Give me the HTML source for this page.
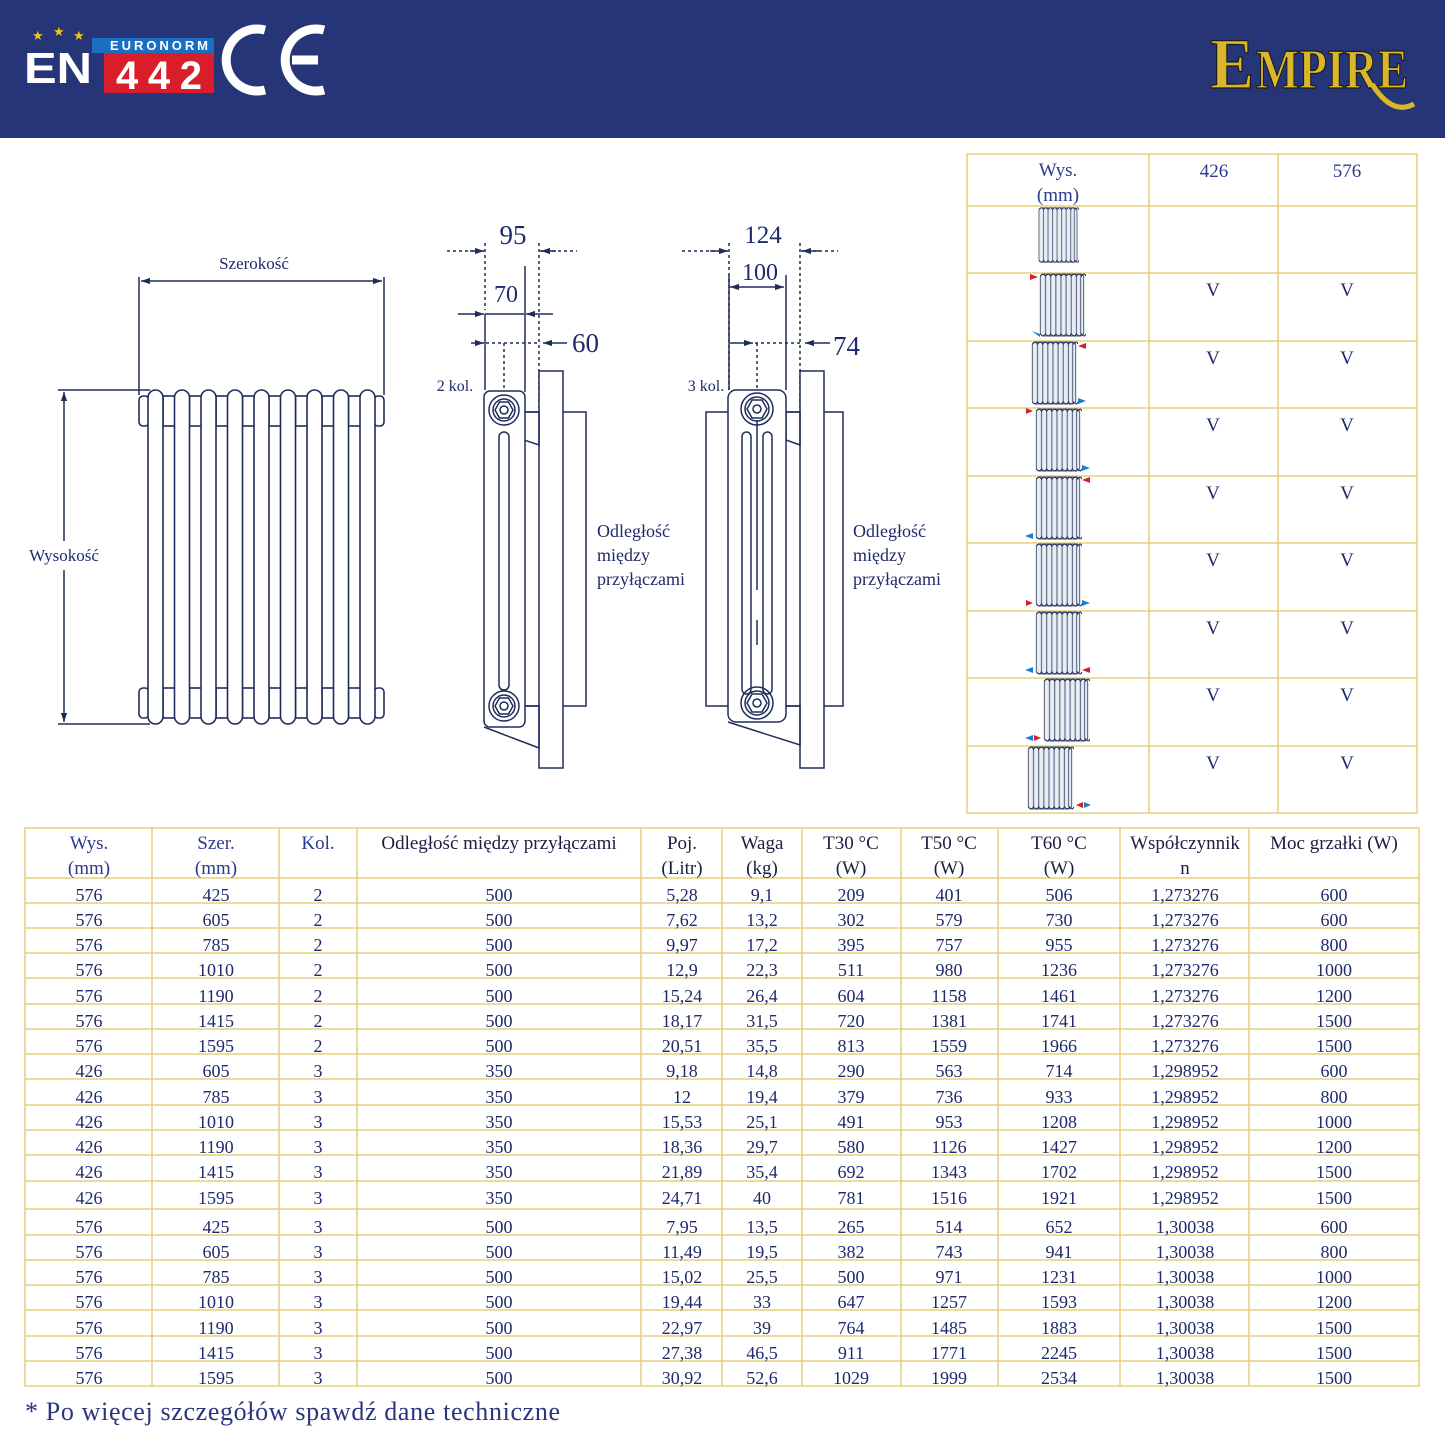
<!DOCTYPE html>
<html><head><meta charset="utf-8">
<style>
html,body{margin:0;padding:0;background:#fff;}
body{width:1445px;height:1445px;overflow:hidden;position:relative;}
svg{position:absolute;left:0;top:0;}
.t{font-family:"Liberation Serif",serif;fill:#1e2a6b;}
.c{text-anchor:middle;}
.d{font-size:18px;}
.h{font-size:19px;fill:#1a1f40;}
.hb{font-size:19px;fill:#2a3a8f;}
</style></head><body>
<svg width="1445" height="1445" viewBox="0 0 1445 1445" xmlns="http://www.w3.org/2000/svg">
<defs>
<marker id="ar" viewBox="0 0 10 10" refX="10" refY="5" markerWidth="9" markerHeight="9" orient="auto-start-reverse" markerUnits="userSpaceOnUse"><path d="M0,1.5 L10,5 L0,8.5 z" fill="#1f2d5a"/></marker>
<symbol id="rad" viewBox="0 0 46 64">
<rect x="2" y="2" width="42" height="60" rx="3" fill="#e8ecf3" stroke="#55607a" stroke-width="1"/>
<g stroke="#6a7590" stroke-width="1.2">
<line x1="7" y1="4" x2="7" y2="60"/><line x1="12" y1="4" x2="12" y2="60"/><line x1="17" y1="4" x2="17" y2="60"/><line x1="22" y1="4" x2="22" y2="60"/><line x1="27" y1="4" x2="27" y2="60"/><line x1="32" y1="4" x2="32" y2="60"/><line x1="37" y1="4" x2="37" y2="60"/><line x1="41" y1="4" x2="41" y2="60"/>
</g>
<path d="M2,4 q3,-4 5,0 q3,-4 5,0 q3,-4 5,0 q3,-4 5,0 q3,-4 5,0 q3,-4 5,0 q3,-4 5,0 q3,-4 5,0 q3,-4 4,0" fill="none" stroke="#1f2d5a" stroke-width="1"/>
<path d="M2,60 q3,4 5,0 q3,4 5,0 q3,4 5,0 q3,4 5,0 q3,4 5,0 q3,4 5,0 q3,4 5,0 q3,4 5,0 q3,4 4,0" fill="none" stroke="#1f2d5a" stroke-width="1"/>
</symbol>
</defs>

<!-- header -->
<rect x="0" y="0" width="1445" height="138" fill="#263577"/>
<g fill="#f2c318" font-family="DejaVu Sans,sans-serif" font-size="13">
<text x="32" y="40">★</text><text x="53" y="36">★</text><text x="73" y="40">★</text><text x="91" y="50">★</text>
</g>
<text x="24" y="83" font-family="Liberation Sans,sans-serif" font-weight="bold" font-size="44" fill="#fff" textLength="68" lengthAdjust="spacingAndGlyphs">EN</text>
<rect x="92" y="38" width="122" height="15" fill="#1b6fc0"/>
<text x="110" y="50" font-family="Liberation Sans,sans-serif" font-weight="bold" font-size="13" fill="#fff" textLength="98">EURONORM</text>
<rect x="104" y="53" width="110" height="40" fill="#d81e2a"/>
<text x="116" y="89" font-family="Liberation Sans,sans-serif" font-weight="bold" font-size="40" fill="#fff" textLength="86">442</text>
<path d="M265,30 A31,31 0 1 0 265,90" fill="none" stroke="#fff" stroke-width="9"/>
<path d="M324,30 A31,31 0 1 0 324,90 M292,60 L318,60" fill="none" stroke="#fff" stroke-width="9"/>
<g font-family="Liberation Serif,serif" font-weight="bold" fill="#d9b62a" stroke="#1a1a1a" stroke-width="1.2">
<text x="1210" y="88" font-size="72" textLength="44" lengthAdjust="spacingAndGlyphs">E</text>
<text x="1256" y="88" font-size="56" textLength="152" lengthAdjust="spacingAndGlyphs">MPIRE</text>
</g>
<path d="M1372,84 Q1392,116 1414,104" fill="none" stroke="#d9b62a" stroke-width="5"/>

<!-- front view -->
<g stroke="#1f2d5a" fill="none" stroke-width="1.5">
<line x1="139" y1="277" x2="139" y2="395"/><line x1="384" y1="277" x2="384" y2="395"/>
<line x1="141" y1="281" x2="382" y2="281" marker-start="url(#ar)" marker-end="url(#ar)"/>
<line x1="58" y1="390" x2="150" y2="390"/><line x1="58" y1="724" x2="150" y2="724"/>
<line x1="64" y1="392" x2="64" y2="541" marker-start="url(#ar)"/>
<line x1="64" y1="570" x2="64" y2="722" marker-end="url(#ar)"/>
</g>
<text class="t c" x="254" y="269" font-size="17">Szerokość</text>
<text class="t c" x="64" y="561" font-size="17">Wysokość</text>
<g stroke="#1f2d5a" fill="#fff" stroke-width="1.6">
<rect x="139" y="396" width="10" height="30" rx="4"/><rect x="139" y="688" width="10" height="30" rx="4"/>
<rect x="374" y="396" width="10" height="30" rx="4"/><rect x="374" y="688" width="10" height="30" rx="4"/>
<g id="conn">
<rect x="163" y="396" width="12" height="30"/><rect x="163" y="688" width="12" height="30"/>
</g>
<use href="#conn" x="26.5"/><use href="#conn" x="53"/><use href="#conn" x="79.5"/><use href="#conn" x="106"/><use href="#conn" x="132.5"/><use href="#conn" x="159"/><use href="#conn" x="185.5"/>
<rect x="148" y="390" width="15" height="334" rx="7.5"/>
<rect x="174.5" y="390" width="15" height="334" rx="7.5"/>
<rect x="201" y="390" width="15" height="334" rx="7.5"/>
<rect x="227.5" y="390" width="15" height="334" rx="7.5"/>
<rect x="254" y="390" width="15" height="334" rx="7.5"/>
<rect x="280.5" y="390" width="15" height="334" rx="7.5"/>
<rect x="307" y="390" width="15" height="334" rx="7.5"/>
<rect x="333.5" y="390" width="15" height="334" rx="7.5"/>
<rect x="360" y="390" width="15" height="334" rx="7.5"/>
</g>

<!-- side view 2 kol -->
<g stroke="#1f2d5a" fill="none" stroke-width="1.5">
<line x1="447" y1="251" x2="484" y2="251" stroke-dasharray="3,3"/>
<line x1="470" y1="251" x2="484" y2="251" marker-end="url(#ar)"/>
<line x1="540" y1="251" x2="577" y2="251" stroke-dasharray="3,3"/>
<line x1="556" y1="251" x2="541" y2="251" marker-end="url(#ar)"/>
<line x1="485" y1="243" x2="485" y2="310" stroke-dasharray="3,3"/>
<line x1="539" y1="243" x2="539" y2="412" stroke-dasharray="3,3"/>
<line x1="458" y1="314" x2="484" y2="314" marker-end="url(#ar)"/>
<line x1="485" y1="314" x2="524" y2="314"/>
<line x1="553" y1="314" x2="526" y2="314" marker-end="url(#ar)"/>
<line x1="485" y1="314" x2="485" y2="390"/>
<line x1="525" y1="266" x2="525" y2="392"/>
<line x1="471" y1="343" x2="484" y2="343" marker-end="url(#ar)"/>
<line x1="486" y1="343" x2="537" y2="343" stroke-dasharray="3,3"/>
<line x1="567" y1="343" x2="543" y2="343" marker-end="url(#ar)"/>
<line x1="504" y1="343" x2="504" y2="408" stroke-dasharray="3,3"/>
<rect x="524" y="412" width="62" height="294" fill="#fff"/>
<rect x="539" y="371" width="24" height="397" fill="#fff"/>
<path d="M524,412 L539,412 L539,445 L524,440 Z M484,727 L539,748 L539,706 L524,706"/>
<rect x="484" y="391" width="41" height="336" rx="6" fill="#fff"/>
<rect x="499" y="432" width="10" height="258" rx="5"/>
<circle cx="504" cy="410" r="15"/><circle cx="504" cy="410" r="11"/><polygon points="513,410 508.5,418 499.5,418 495,410 499.5,402 508.5,402"/><circle cx="504" cy="410" r="4"/>
<circle cx="504" cy="706" r="15"/><circle cx="504" cy="706" r="11"/><polygon points="513,706 508.5,714 499.5,714 495,706 499.5,698 508.5,698"/><circle cx="504" cy="706" r="4"/>
</g>
<text class="t c" x="513" y="244" font-size="27">95</text>
<text class="t c" x="506" y="302" font-size="24">70</text>
<text class="t" x="572" y="352" font-size="27">60</text>
<text class="t c" x="455" y="391" font-size="16">2 kol.</text>
<text class="t" x="597" y="537" font-size="18">Odległość</text>
<text class="t" x="597" y="561" font-size="18">między</text>
<text class="t" x="597" y="585" font-size="18">przyłączami</text>

<!-- side view 3 kol -->
<g stroke="#1f2d5a" fill="none" stroke-width="1.5">
<line x1="682" y1="251" x2="728" y2="251" stroke-dasharray="3,3"/>
<line x1="710" y1="251" x2="728" y2="251" marker-end="url(#ar)"/>
<line x1="801" y1="251" x2="838" y2="251" stroke-dasharray="3,3"/>
<line x1="820" y1="251" x2="802" y2="251" marker-end="url(#ar)"/>
<line x1="729" y1="243" x2="729" y2="390" stroke-dasharray="3,3"/>
<line x1="800" y1="243" x2="800" y2="412" stroke-dasharray="3,3"/>
<line x1="730" y1="287" x2="784" y2="287" marker-start="url(#ar)" marker-end="url(#ar)"/>
<line x1="729" y1="275" x2="729" y2="390"/>
<line x1="786" y1="275" x2="786" y2="390"/>
<line x1="730" y1="343" x2="753" y2="343" marker-end="url(#ar)"/>
<line x1="755" y1="343" x2="800" y2="343" stroke-dasharray="3,3"/>
<line x1="830" y1="343" x2="805" y2="343" marker-end="url(#ar)"/>
<line x1="757" y1="343" x2="757" y2="408" stroke-dasharray="3,3"/>
<rect x="706" y="412" width="137" height="294" fill="#fff"/>
<rect x="800" y="371" width="24" height="397" fill="#fff"/>
<path d="M786,412 L800,412 L800,445 L786,440 Z M728,722 L800,745 L800,706 L786,706"/>
<rect x="728" y="390" width="58" height="332" rx="8" fill="#fff"/>
<rect x="742" y="432" width="9" height="262" rx="4.5"/>
<rect x="763" y="432" width="9" height="262" rx="4.5"/>
<line x1="757" y1="420" x2="757" y2="590"/><line x1="757" y1="620" x2="757" y2="645"/>
<circle cx="757" cy="409" r="16"/><circle cx="757" cy="409" r="12"/><polygon points="767,409 762,418 752,418 747,409 752,400 762,400"/><circle cx="757" cy="409" r="4"/>
<circle cx="757" cy="703" r="16"/><circle cx="757" cy="703" r="12"/><polygon points="767,703 762,712 752,712 747,703 752,694 762,694"/><circle cx="757" cy="703" r="4"/>
</g>
<text class="t c" x="763" y="243" font-size="25">124</text>
<text class="t c" x="760" y="280" font-size="24">100</text>
<text class="t" x="833" y="355" font-size="27">74</text>
<text class="t c" x="706" y="391" font-size="16">3 kol.</text>
<text class="t" x="853" y="537" font-size="18">Odległość</text>
<text class="t" x="853" y="561" font-size="18">między</text>
<text class="t" x="853" y="585" font-size="18">przyłączami</text>

<!-- right table -->
<g stroke="#e6cf7a" stroke-width="1.5" fill="none">
<rect x="967" y="154" width="450" height="659"/>
<line x1="1149" y1="154" x2="1149" y2="813"/><line x1="1278" y1="154" x2="1278" y2="813"/>
<line x1="967" y1="206" x2="1417" y2="206"/><line x1="967" y1="273" x2="1417" y2="273"/><line x1="967" y1="341" x2="1417" y2="341"/><line x1="967" y1="408" x2="1417" y2="408"/><line x1="967" y1="476" x2="1417" y2="476"/><line x1="967" y1="543" x2="1417" y2="543"/><line x1="967" y1="611" x2="1417" y2="611"/><line x1="967" y1="678" x2="1417" y2="678"/><line x1="967" y1="746" x2="1417" y2="746"/>
</g>
<text class="t c hb" x="1058" y="176" font-size="19">Wys.</text>
<text class="t c hb" x="1058" y="201">(mm)</text>
<text class="t c hb" x="1214" y="177">426</text>
<text class="t c hb" x="1347" y="177">576</text>
<use href="#rad" x="1036" y="206" width="44" height="58"/>
<use href="#rad" x="1038" y="272" width="48" height="66"/>
<use href="#rad" x="1030" y="340" width="48" height="66"/>
<use href="#rad" x="1034" y="407" width="48" height="66"/>
<use href="#rad" x="1034" y="475" width="48" height="66"/>
<use href="#rad" x="1034" y="542" width="48" height="66"/>
<use href="#rad" x="1034" y="610" width="48" height="66"/>
<use href="#rad" x="1042" y="677" width="48" height="66"/>
<use href="#rad" x="1026" y="745" width="48" height="66"/>
<g>
<polygon points="1030,274 1038,277 1030,280" fill="#d81e2a"/><polygon points="1040,334 1032,331 1040,337" fill="#1b7fd0"/>
<polygon points="1086,343 1078,346 1086,349" fill="#d81e2a"/>
<polygon points="1026,408 1033,411 1026,414" fill="#d81e2a"/><polygon points="1078,398 1086,401 1078,404" fill="#1b7fd0"/>
<polygon points="1082,465 1090,468 1082,471" fill="#1b7fd0"/><polygon points="1090,477 1082,480 1090,483" fill="#d81e2a"/>
<polygon points="1033,533 1025,536 1033,539" fill="#1b7fd0"/>
<polygon points="1026,600 1033,603 1026,606" fill="#d81e2a"/><polygon points="1082,600 1090,603 1082,606" fill="#1b7fd0"/>
<polygon points="1033,667 1025,670 1033,673" fill="#1b7fd0"/><polygon points="1090,667 1082,670 1090,673" fill="#d81e2a"/>
<polygon points="1033,735 1025,738 1033,741" fill="#1b7fd0"/><polygon points="1034,735 1041,738 1034,741" fill="#d81e2a"/>
<polygon points="1083,802 1076,805 1083,808" fill="#d81e2a"/><polygon points="1084,802 1091,805 1084,808" fill="#1b7fd0"/>
</g>
<g class="t c" font-size="19">
<text x="1213" y="296">V</text><text x="1347" y="296">V</text>
<text x="1213" y="364">V</text><text x="1347" y="364">V</text>
<text x="1213" y="431">V</text><text x="1347" y="431">V</text>
<text x="1213" y="499">V</text><text x="1347" y="499">V</text>
<text x="1213" y="566">V</text><text x="1347" y="566">V</text>
<text x="1213" y="634">V</text><text x="1347" y="634">V</text>
<text x="1213" y="701">V</text><text x="1347" y="701">V</text>
<text x="1213" y="769">V</text><text x="1347" y="769">V</text>
</g>

<!-- main table grid -->
<g stroke="#e6cf7a" stroke-width="1.5">
<rect x="25" y="828" width="1394" height="558" fill="none"/>
<line x1="152" y1="828" x2="152" y2="1386"/><line x1="279" y1="828" x2="279" y2="1386"/><line x1="357" y1="828" x2="357" y2="1386"/><line x1="641" y1="828" x2="641" y2="1386"/><line x1="722" y1="828" x2="722" y2="1386"/><line x1="802" y1="828" x2="802" y2="1386"/><line x1="901" y1="828" x2="901" y2="1386"/><line x1="998" y1="828" x2="998" y2="1386"/><line x1="1120" y1="828" x2="1120" y2="1386"/><line x1="1249" y1="828" x2="1249" y2="1386"/>
<line x1="25" y1="878" x2="1419" y2="878"/><line x1="25" y1="903" x2="1419" y2="903"/><line x1="25" y1="928" x2="1419" y2="928"/><line x1="25" y1="953" x2="1419" y2="953"/><line x1="25" y1="978" x2="1419" y2="978"/><line x1="25" y1="1004" x2="1419" y2="1004"/><line x1="25" y1="1029" x2="1419" y2="1029"/><line x1="25" y1="1054" x2="1419" y2="1054"/><line x1="25" y1="1079" x2="1419" y2="1079"/><line x1="25" y1="1105" x2="1419" y2="1105"/><line x1="25" y1="1130" x2="1419" y2="1130"/><line x1="25" y1="1155" x2="1419" y2="1155"/><line x1="25" y1="1181" x2="1419" y2="1181"/><line x1="25" y1="1209" x2="1419" y2="1209"/><line x1="25" y1="1235" x2="1419" y2="1235"/><line x1="25" y1="1260" x2="1419" y2="1260"/><line x1="25" y1="1285" x2="1419" y2="1285"/><line x1="25" y1="1310" x2="1419" y2="1310"/><line x1="25" y1="1336" x2="1419" y2="1336"/><line x1="25" y1="1361" x2="1419" y2="1361"/>
</g>
<g class="t c">
<text class="hb" x="89" y="849">Wys.</text><text class="hb" x="89" y="874">(mm)</text>
<text class="hb" x="216" y="849">Szer.</text><text class="hb" x="216" y="874">(mm)</text>
<text class="hb" x="318" y="849">Kol.</text>
<text class="h" x="499" y="849">Odległość między przyłączami</text>
<text class="h" x="682" y="849">Poj.</text><text class="h" x="682" y="874">(Litr)</text>
<text class="h" x="762" y="849">Waga</text><text class="h" x="762" y="874">(kg)</text>
<text class="h" x="851" y="849">T30 °C</text><text class="h" x="851" y="874">(W)</text>
<text class="h" x="949" y="849">T50 °C</text><text class="h" x="949" y="874">(W)</text>
<text class="h" x="1059" y="849">T60 °C</text><text class="h" x="1059" y="874">(W)</text>
<text class="h" x="1185" y="849">Współczynnik</text><text class="h" x="1185" y="874">n</text>
<text class="h" x="1334" y="849">Moc grzałki (W)</text>
</g>
<g class="t c d">
<g transform="translate(0,901)"><text x="89">576</text><text x="216">425</text><text x="318">2</text><text x="499">500</text><text x="682">5,28</text><text x="762">9,1</text><text x="851">209</text><text x="949">401</text><text x="1059">506</text><text x="1185">1,273276</text><text x="1334">600</text></g>
<g transform="translate(0,926)"><text x="89">576</text><text x="216">605</text><text x="318">2</text><text x="499">500</text><text x="682">7,62</text><text x="762">13,2</text><text x="851">302</text><text x="949">579</text><text x="1059">730</text><text x="1185">1,273276</text><text x="1334">600</text></g>
<g transform="translate(0,951)"><text x="89">576</text><text x="216">785</text><text x="318">2</text><text x="499">500</text><text x="682">9,97</text><text x="762">17,2</text><text x="851">395</text><text x="949">757</text><text x="1059">955</text><text x="1185">1,273276</text><text x="1334">800</text></g>
<g transform="translate(0,976)"><text x="89">576</text><text x="216">1010</text><text x="318">2</text><text x="499">500</text><text x="682">12,9</text><text x="762">22,3</text><text x="851">511</text><text x="949">980</text><text x="1059">1236</text><text x="1185">1,273276</text><text x="1334">1000</text></g>
<g transform="translate(0,1002)"><text x="89">576</text><text x="216">1190</text><text x="318">2</text><text x="499">500</text><text x="682">15,24</text><text x="762">26,4</text><text x="851">604</text><text x="949">1158</text><text x="1059">1461</text><text x="1185">1,273276</text><text x="1334">1200</text></g>
<g transform="translate(0,1027)"><text x="89">576</text><text x="216">1415</text><text x="318">2</text><text x="499">500</text><text x="682">18,17</text><text x="762">31,5</text><text x="851">720</text><text x="949">1381</text><text x="1059">1741</text><text x="1185">1,273276</text><text x="1334">1500</text></g>
<g transform="translate(0,1052)"><text x="89">576</text><text x="216">1595</text><text x="318">2</text><text x="499">500</text><text x="682">20,51</text><text x="762">35,5</text><text x="851">813</text><text x="949">1559</text><text x="1059">1966</text><text x="1185">1,273276</text><text x="1334">1500</text></g>
<g transform="translate(0,1077)"><text x="89">426</text><text x="216">605</text><text x="318">3</text><text x="499">350</text><text x="682">9,18</text><text x="762">14,8</text><text x="851">290</text><text x="949">563</text><text x="1059">714</text><text x="1185">1,298952</text><text x="1334">600</text></g>
<g transform="translate(0,1103)"><text x="89">426</text><text x="216">785</text><text x="318">3</text><text x="499">350</text><text x="682">12</text><text x="762">19,4</text><text x="851">379</text><text x="949">736</text><text x="1059">933</text><text x="1185">1,298952</text><text x="1334">800</text></g>
<g transform="translate(0,1128)"><text x="89">426</text><text x="216">1010</text><text x="318">3</text><text x="499">350</text><text x="682">15,53</text><text x="762">25,1</text><text x="851">491</text><text x="949">953</text><text x="1059">1208</text><text x="1185">1,298952</text><text x="1334">1000</text></g>
<g transform="translate(0,1153)"><text x="89">426</text><text x="216">1190</text><text x="318">3</text><text x="499">350</text><text x="682">18,36</text><text x="762">29,7</text><text x="851">580</text><text x="949">1126</text><text x="1059">1427</text><text x="1185">1,298952</text><text x="1334">1200</text></g>
<g transform="translate(0,1178)"><text x="89">426</text><text x="216">1415</text><text x="318">3</text><text x="499">350</text><text x="682">21,89</text><text x="762">35,4</text><text x="851">692</text><text x="949">1343</text><text x="1059">1702</text><text x="1185">1,298952</text><text x="1334">1500</text></g>
<g transform="translate(0,1204)"><text x="89">426</text><text x="216">1595</text><text x="318">3</text><text x="499">350</text><text x="682">24,71</text><text x="762">40</text><text x="851">781</text><text x="949">1516</text><text x="1059">1921</text><text x="1185">1,298952</text><text x="1334">1500</text></g>
<g transform="translate(0,1233)"><text x="89">576</text><text x="216">425</text><text x="318">3</text><text x="499">500</text><text x="682">7,95</text><text x="762">13,5</text><text x="851">265</text><text x="949">514</text><text x="1059">652</text><text x="1185">1,30038</text><text x="1334">600</text></g>
<g transform="translate(0,1258)"><text x="89">576</text><text x="216">605</text><text x="318">3</text><text x="499">500</text><text x="682">11,49</text><text x="762">19,5</text><text x="851">382</text><text x="949">743</text><text x="1059">941</text><text x="1185">1,30038</text><text x="1334">800</text></g>
<g transform="translate(0,1283)"><text x="89">576</text><text x="216">785</text><text x="318">3</text><text x="499">500</text><text x="682">15,02</text><text x="762">25,5</text><text x="851">500</text><text x="949">971</text><text x="1059">1231</text><text x="1185">1,30038</text><text x="1334">1000</text></g>
<g transform="translate(0,1308)"><text x="89">576</text><text x="216">1010</text><text x="318">3</text><text x="499">500</text><text x="682">19,44</text><text x="762">33</text><text x="851">647</text><text x="949">1257</text><text x="1059">1593</text><text x="1185">1,30038</text><text x="1334">1200</text></g>
<g transform="translate(0,1334)"><text x="89">576</text><text x="216">1190</text><text x="318">3</text><text x="499">500</text><text x="682">22,97</text><text x="762">39</text><text x="851">764</text><text x="949">1485</text><text x="1059">1883</text><text x="1185">1,30038</text><text x="1334">1500</text></g>
<g transform="translate(0,1359)"><text x="89">576</text><text x="216">1415</text><text x="318">3</text><text x="499">500</text><text x="682">27,38</text><text x="762">46,5</text><text x="851">911</text><text x="949">1771</text><text x="1059">2245</text><text x="1185">1,30038</text><text x="1334">1500</text></g>
<g transform="translate(0,1384)"><text x="89">576</text><text x="216">1595</text><text x="318">3</text><text x="499">500</text><text x="682">30,92</text><text x="762">52,6</text><text x="851">1029</text><text x="949">1999</text><text x="1059">2534</text><text x="1185">1,30038</text><text x="1334">1500</text></g>
</g>
<text x="25" y="1420" font-family="Liberation Serif,serif" font-size="26" fill="#2a3580" textLength="535">* Po więcej szczegółów spawdź dane techniczne</text>
</svg>
</body></html>
